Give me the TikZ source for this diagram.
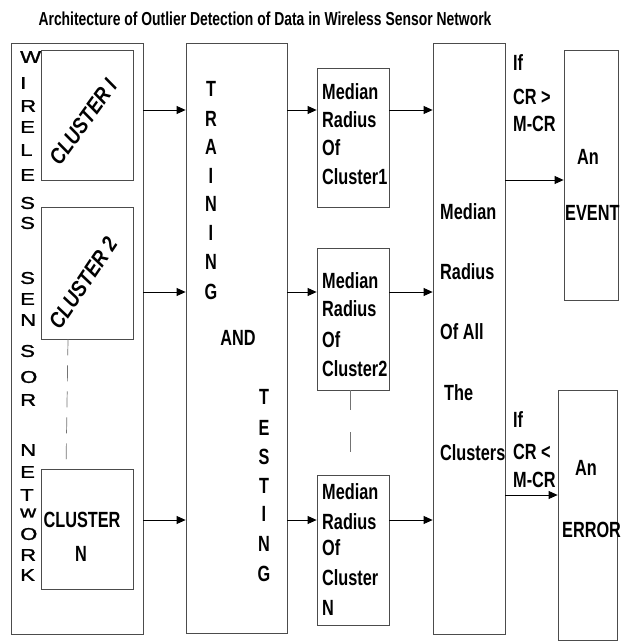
\documentclass[tikz,border=0pt]{standalone}
\usepackage{fontspec}
\setmainfont{Liberation Sans}[FakeStretch=0.74]
\newfontfamily\widefont{Liberation Sans}[FakeBold=1.2]
\newfontfamily\clusterfont{Liberation Sans}[FakeStretch=0.85]
\newcommand{\wideletter}[1]{\scalebox{1.3}[1]{#1}}
\usetikzlibrary{arrows.meta,fit}
\begin{document}
\begin{tikzpicture}[x=1pt,y=-1pt,
  box/.style={draw=black!70, line width=0.8pt, inner sep=0pt},
  arr/.style={draw=black, line width=0.8pt, -{Triangle[length=9pt,width=8pt]}},
  dshA/.style={draw=black!55, line width=0.7pt, dash pattern=on 16pt off 10pt},
  dshB/.style={draw=black!55, line width=0.7pt, dash pattern=on 20pt off 22pt},
  txt/.style={font=\bfseries\fontsize{22}{26}\selectfont, anchor=west, inner sep=0pt},
  ctxt/.style={font=\bfseries\fontsize{22}{26}\selectfont, inner sep=0pt},
  wl/.style={font=\widefont\fontsize{17}{18}\selectfont, anchor=west, inner sep=0pt},
  cl/.style={font=\clusterfont\bfseries\itshape\fontsize{22}{24}\selectfont, inner sep=0pt},
]
\useasboundingbox (0,0) rectangle (624,641);

% title
\node[font=\bfseries\fontsize{18.8}{22}\selectfont, anchor=base, inner sep=0pt] (title) at (265,25)
  {Architecture of Outlier Detection of Data in Wireless Sensor Network};

% boxes
\node[box, fit={(11,43) (143,634)}] (wsn) {};
\node[box, fit={(41,50) (133,180)}] (c1) {};
\node[box, fit={(41,207) (133,339)}] (c2) {};
\node[box, fit={(41,469) (133,589)}] (cN) {};
\node[box, fit={(186,43) (287,633)}] (train) {};
\node[box, fit={(317,68) (389,207)}] (m1) {};
\node[box, fit={(317,248) (389,390)}] (m2) {};
\node[box, fit={(317,475) (389,625)}] (mN) {};
\node[box, fit={(433,43) (505,634)}] (all) {};
\node[box, fit={(564,50) (618,300)}] (event) {};
\node[box, fit={(558,390) (617,640)}] (error) {};

% WIRELESS SENSOR NETWORK letters
\foreach \l/\y [count=\i] in {W/57,I/83,R/106,E/127,L/150,E/175,S/203,S/223,
  S/278,E/299,N/320,S/351,O/377,R/400,
  N/450,E/472,T/495,w/513,O/534,R/555,K/575}
  \node[wl] (wl\i) at (20,\y) {\wideletter{\l}};

% cluster labels
\node[cl, rotate=54] (c1t) at (83,122) {CLUSTER I};
\node[cl, rotate=56] (c2t) at (83,283) {CLUSTER 2};
\node[ctxt] (cNt1) at (82,520) {CLUSTER};
\node[ctxt] (cNt2) at (81,554) {N};

% TRAINING AND TESTING
\foreach \l/\y [count=\i] in {T/89,R/119,A/147,I/176,N/204,I/233,N/262,G/292}
  \node[ctxt] (tr\i) at (211,\y) {\l};
\node[ctxt] (and) at (238,338) {AND};
\foreach \l/\y [count=\i] in {T/397,E/428,S/457,T/486,I/514,N/544,G/574}
  \node[ctxt] (te\i) at (264,\y) {\l};

% median boxes text
\foreach \t/\y [count=\i] in {Median/92,Radius/120,Of/148,Cluster1/177}
  \node[txt] (ma\i) at (322,\y) {\t};
\foreach \t/\y [count=\i] in {Median/281,Radius/309,Of/340,Cluster2/369}
  \node[txt] (mb\i) at (322,\y) {\t};
\foreach \t/\y [count=\i] in {Median/492,Radius/522,Of/548,Cluster/578,N/608}
  \node[txt] (mc\i) at (322,\y) {\t};

% median of all
\node[txt] (al1) at (440,212) {Median};
\node[txt] (al2) at (440,272) {Radius};
\node[txt] (al3) at (440,332) {Of All};
\node[txt] (al4) at (444,393) {The};
\node[txt] (al5) at (440,453) {Clusters};

% conditions
\node[txt] (ca1) at (513,63) {If};
\node[txt] (ca2) at (513,97) {CR >};
\node[txt] (ca3) at (513,124) {M-CR};
\node[txt] (cb1) at (513,420) {If};
\node[txt] (cb2) at (513,452) {CR <};
\node[txt] (cb3) at (513,480) {M-CR};

\node[txt] (ev1) at (577,157) {An};
\node[txt] (ev2) at (565,213) {EVENT};
\node[txt] (er1) at (575,468) {An};
\node[txt] (er2) at (562,530) {ERROR};

% arrows
\coordinate (r1) at (0,110);
\coordinate (r2) at (0,292);
\coordinate (rN) at (0,520);
\coordinate (re) at (0,180);
\coordinate (rr) at (0,495);
\foreach \r in {r1,r2,rN}
  \draw[arr] (wsn.east |- \r) -- (train.west |- \r);
\draw[arr] (train.east |- r1) -- (m1.west |- r1);
\draw[arr] (train.east |- r2) -- (m2.west |- r2);
\draw[arr] (train.east |- rN) -- (mN.west |- rN);
\draw[arr] (m1.east |- r1) -- (all.west |- r1);
\draw[arr] (m2.east |- r2) -- (all.west |- r2);
\draw[arr] (mN.east |- rN) -- (all.west |- rN);
\draw[arr] (all.east |- re) -- (event.west |- re);
\draw[arr] (all.east |- rr) -- (error.west |- rr);

% dashed continuation lines
\draw[dshA] ([xshift=-19pt]c2.south) -- ([xshift=-21pt]cN.north);
\coordinate (dEnd) at ([xshift=-3pt,yshift=22pt]mN.north);
\draw[dshB] ([xshift=-3pt]m2.south) -- (dEnd);
\end{tikzpicture}
\end{document}
